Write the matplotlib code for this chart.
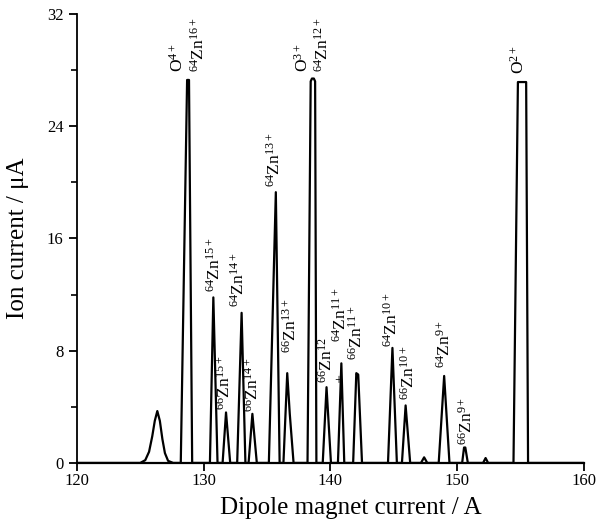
import matplotlib
matplotlib.use('Agg')
import matplotlib.pyplot as plt
from matplotlib.ticker import MultipleLocator

plt.rcParams['font.family'] = ['Liberation Serif', 'DejaVu Serif']
plt.rcParams['mathtext.fontset'] = 'custom'
plt.rcParams['mathtext.rm'] = 'Liberation Serif'
plt.rcParams['mathtext.it'] = 'Liberation Serif:italic'

# trace vertices
current_A = [120.0, 125.0,
             125.4, 125.7, 125.95, 126.15, 126.35, 126.55, 126.75, 126.95, 127.2, 127.6,
             128.2, 128.7, 128.85, 129.1,
             130.5, 130.77, 131.1,
             131.5, 131.77, 132.1,
             132.65, 133.0, 133.3,
             133.55, 133.85, 134.2,
             135.15, 135.7, 136.0,
             136.3, 136.6, 136.8, 137.1,
             138.2, 138.45, 138.55, 138.7, 138.8, 138.9,
             139.4, 139.7, 140.05,
             140.6, 140.87, 141.1,
             141.8, 142.05, 142.2, 142.5,
             144.55, 144.9, 145.25,
             145.65, 145.94, 146.3,
             147.15, 147.4, 147.65,
             148.55, 148.98, 149.4,
             150.4, 150.55, 150.65, 150.85,
             152.05, 152.25, 152.45,
             154.45, 154.8, 155.45, 155.6,
             160.0]
ion_uA = [0, 0,
          0.2, 0.8, 1.9, 3.0, 3.7, 3.0, 1.7, 0.7, 0.15, 0,
          0, 27.3, 27.3, 0,
          0, 11.8, 0,
          0, 3.6, 0,
          0, 10.7, 0,
          0, 3.5, 0,
          0, 19.3, 0,
          0, 6.4, 3.5, 0,
          0, 27.2, 27.4, 27.4, 27.2, 0,
          0, 5.4, 0,
          0, 7.1, 0,
          0, 6.4, 6.3, 0,
          0, 8.2, 0,
          0, 4.1, 0,
          0, 0.4, 0,
          0, 6.2, 0,
          0, 1.1, 1.1, 0,
          0, 0.35, 0,
          0, 27.15, 27.15, 0,
          0]

# peak labels (text, x, bottom of label)
peak_labels = [r'O$^{4+}$', r'$^{64}$Zn$^{16+}$', r'$^{64}$Zn$^{15+}$', r'$^{66}$Zn$^{15+}$',
               r'$^{64}$Zn$^{14+}$', r'$^{66}$Zn$^{14+}$', r'$^{64}$Zn$^{13+}$', r'$^{66}$Zn$^{13+}$',
               r'O$^{3+}$', r'$^{64}$Zn$^{12+}$', r'$^{66}$Zn$^{12}$', r'$^{64}$Zn$^{11+}$',
               r'$^{66}$Zn$^{11+}$', r'$^{64}$Zn$^{10+}$', r'$^{66}$Zn$^{10+}$', r'$^{64}$Zn$^{9+}$',
               r'$^{66}$Zn$^{9+}$', r'O$^{2+}$']
label_x = [128.0, 129.6, 130.85, 131.7,
           132.8, 133.85, 135.6, 136.9,
           137.85, 139.4, 139.7, 140.8,
           142.1, 144.85, 146.2, 149.05,
           150.8, 154.85]
label_y = [27.9, 27.85, 12.2, 3.8,
           11.1, 3.6, 19.7, 7.85,
           27.85, 27.85, 5.7, 8.6,
           7.35, 8.3, 4.5, 6.8,
           1.3, 27.7]

fig = plt.figure(figsize=(6.05, 5.19), dpi=100)
ax = fig.add_axes([0.127, 0.108, 0.838, 0.865])

ax.plot(current_A, ion_uA, color='black', linewidth=1.6, solid_joinstyle='round')

for txt, x, y in zip(peak_labels, label_x, label_y):
    ax.text(x, y, txt, rotation=90, ha='center', va='bottom', fontsize=12.5)
# stray "+" of the 66Zn12+ label
ax.text(140.65, 5.9, '+', ha='center', va='center', fontsize=10)

ax.set_xlim(120, 160)
ax.set_ylim(0, 32)
ax.xaxis.set_major_locator(MultipleLocator(10))
ax.yaxis.set_major_locator(MultipleLocator(8))
ax.yaxis.set_minor_locator(MultipleLocator(4))
ax.spines['top'].set_visible(False)
ax.spines['right'].set_visible(False)
ax.spines['left'].set_linewidth(1.3)
ax.spines['bottom'].set_linewidth(1.6)
ax.tick_params(which='major', direction='out', length=6, width=1.3, labelsize=12)
ax.tick_params(axis='x', which='major', pad=1.5)
ax.tick_params(which='minor', direction='out', length=4, width=1.2)

ax.set_xlabel('Dipole magnet current / A', fontsize=18)
ax.xaxis.set_label_coords(0.54, -0.075)
ax.set_ylabel('Ion current / \u03bcA', fontsize=18)
ax.yaxis.set_label_coords(-0.095, 0.5)

plt.savefig('out.png', dpi=100)
